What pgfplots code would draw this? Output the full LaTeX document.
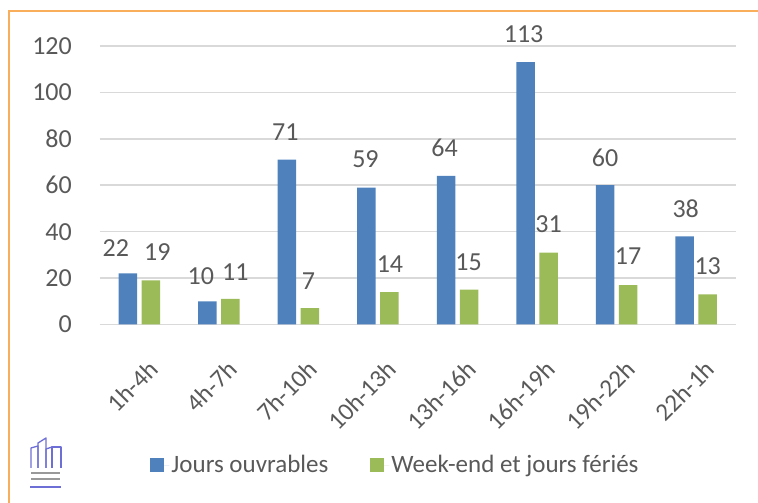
\documentclass[border=0pt]{standalone}
\usepackage{fontspec}
\setmainfont{Carlito}
\usepackage{pgfplots}
\usepackage{pgfplotstable}
\pgfplotsset{compat=1.18}
\definecolor{txt}{HTML}{595959}
\definecolor{gridc}{HTML}{D9D9D9}
\definecolor{bblue}{HTML}{4F81BD}
\definecolor{bgreen}{HTML}{9BBB59}
\definecolor{frame}{HTML}{F9AE5B}
\definecolor{logo}{HTML}{6E6FD6}
\pgfplotstableread{
x b g bdx bdy gdx gdy
0 22 19 -12 25 6.5 28
1 10 11 -6.5 25 5 27
2 71 7 -1.5 28 -1.5 27.5
3 59 14 -1 28 0.5 27.5
4 64 15 -1.5 28 -0.5 27
5 113 31 -2 28 0 28.5
6 60 17 0 27 0 28.5
7 38 13 1 28 0 28
}\datatable
\begin{document}
\begin{tikzpicture}[x=1bp,y=1bp]
\useasboundingbox (0,0) rectangle (758,503);
% frame
\draw[frame, line width=2bp] (9,0) -- (9,491.5) -- (758,491.5);
% logo
\begin{scope}[logo, line width=1.3bp, line join=round]
\draw (31,35) -- (31,55) -- (38,57) -- (38,35);
\draw (38,35) -- (38,60) -- (46,65) -- (46,35);
\draw (46,35) -- (46,54) -- (52,56) -- (52,35);
\draw (52,35) -- (52,56) -- (61,56) -- (61,35);
\end{scope}
\fill[gray!80] (31,29) rectangle (60,31);
\fill[gray!80] (31,23) rectangle (60,25);
\fill[logo] (30,15) rectangle (61,16.5);
\begin{axis}[
  at={(99.5bp,178.5bp)}, anchor=south west,
  scale only axis, width=636.5bp, height=278.5bp,
  xmin=-0.5, xmax=7.5, ymin=0, ymax=120,
  enlargelimits=false, clip=false,
  axis line style={draw=none},
  major tick length=0pt,
  ytick={0,20,...,120},
  ymajorgrids, grid style={gridc, line width=1.5bp},
  xtick={0,...,7},
  xticklabels={1h-4h,4h-7h,7h-10h,10h-13h,13h-16h,16h-19h,19h-22h,22h-1h},
  /pgf/number format/assume math mode=true,
  tick label style={font=\fontsize{26bp}{30bp}\selectfont, text=txt},
  yticklabel style={anchor=east, inner sep=0pt, xshift=-27.5bp},
  xticklabel style={font=\fontsize{25bp}{29bp}\selectfont, rotate=45, anchor=north east, inner sep=0pt, xshift=-19bp, yshift=-30bp},
  ybar=4.5bp, bar width=18.5bp,
  nodes near coords,
  every node near coord/.append style={font=\fontsize{26bp}{30bp}\selectfont, text=txt, anchor=center, inner sep=0pt},
  legend columns=2,
  legend style={draw=none, fill=none, at={(0.465,-0.5045)}, anchor=center,
    font=\fontsize{25bp}{29bp}\selectfont, text=txt, inner sep=0pt,
    /tikz/every even column/.append style={column sep=40bp}},
  legend image code/.code={\fill[#1] (0bp,-7bp) rectangle (14bp,7bp); \path (0bp,0bp) -- (19bp,0bp);},
]
\addplot[fill=bblue, draw=none,
  visualization depends on={\thisrow{bdx}\as\ldx},
  visualization depends on={\thisrow{bdy}\as\ldy},
  nodes near coords style={xshift=\ldx bp, yshift=\ldy bp}]
  table[x=x, y=b] {\datatable};
\addlegendentry{Jours ouvrables}
\addplot[fill=bgreen, draw=none,
  visualization depends on={\thisrow{gdx}\as\ldx},
  visualization depends on={\thisrow{gdy}\as\ldy},
  nodes near coords style={xshift=\ldx bp, yshift=\ldy bp}]
  table[x=x, y=g] {\datatable};
\addlegendentry{Week-end et jours fériés}
\end{axis}
\end{tikzpicture}
\end{document}
